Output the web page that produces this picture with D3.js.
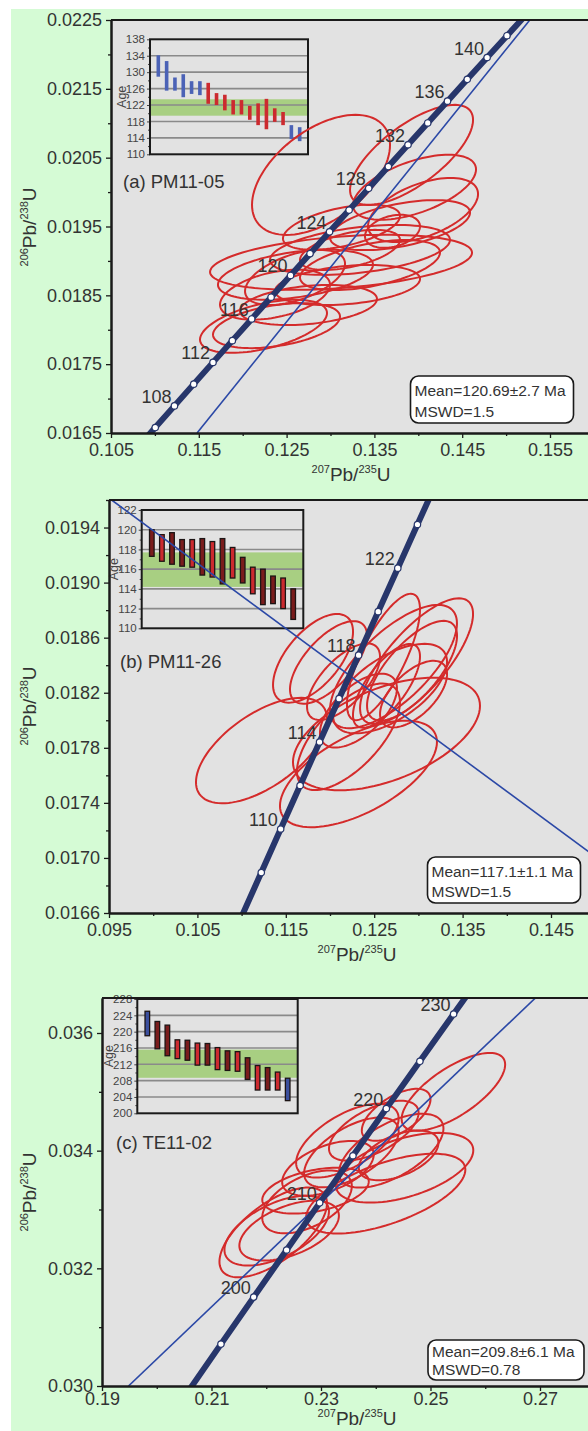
<!DOCTYPE html>
<html>
<head>
<meta charset="utf-8">
<script src="https://cdn.jsdelivr.net/npm/d3@7"></script>
<style>
  body { margin: 0; background: #ffffff; }
  svg { display: block; font-family: "Liberation Sans", Arial, sans-serif; }
</style>
</head>
<body>
<svg id="fig" width="588" height="1431"></svg>
<script>
// ---- Concordia (U-Pb), Ma -> ratios ----
const concAgesAB = [104, 106, 108, 110, 112, 114, 116, 118, 120, 122, 124, 126, 128, 130, 132, 134, 136, 138, 140, 142, 144];
const conc207AB = [0.107853, 0.110038, 0.112226, 0.114419, 0.116617, 0.118818, 0.121024, 0.123234, 0.125449, 0.127668, 0.129891, 0.132119, 0.134351, 0.136587, 0.138828, 0.141073, 0.143323, 0.145577, 0.147837, 0.150100, 0.152367];
const conc206AB = [0.016264, 0.016579, 0.016894, 0.017210, 0.017526, 0.017842, 0.018157, 0.018473, 0.018789, 0.019105, 0.019422, 0.019738, 0.020054, 0.020371, 0.020688, 0.021004, 0.021321, 0.021638, 0.021955, 0.022272, 0.022589];
const concAgesC = [190, 195, 200, 205, 210, 215, 220, 225, 230, 235];
const conc207C = [0.205774, 0.211726, 0.217708, 0.223719, 0.229760, 0.235830, 0.241931, 0.248061, 0.254222, 0.260414];
const conc206C = [0.029912, 0.030712, 0.031511, 0.032312, 0.033113, 0.033914, 0.034716, 0.035519, 0.036323, 0.037127];

const markerAgesA = [106, 108, 110, 112, 114, 116, 118, 120, 122, 124, 126, 128, 130, 132, 134, 136, 138, 140, 142];
const labelAgesA = [108, 112, 116, 120, 124, 128, 132, 136, 140];
const markerAgesB = [108, 110, 112, 114, 116, 118, 120, 122, 124];
const labelAgesB = [110, 114, 118, 122];
const markerAgesC = [195, 200, 205, 210, 215, 220, 225, 230];
const labelAgesC = [200, 210, 220, 230];

// ---- Error ellipses: [207Pb/235U, half-width x, 206Pb/238U, half-height y, rho] ----
const ellipsesA = [
  [0.12892, 0.007859, 0.02025, 0.000872, 0.50],
  [0.13923, 0.007005, 0.02054, 0.000727, 0.70],
  [0.13957, 0.007005, 0.02007, 0.000472, 0.55],
  [0.14054, 0.006264, 0.01974, 0.000465, 0.50],
  [0.13706, 0.003132, 0.01943, 0.000240, 0.30],
  [0.13125, 0.006663, 0.01949, 0.000327, 0.50],
  [0.13120, 0.014920, 0.01898, 0.000400, 0.35],
  [0.12601, 0.008827, 0.01880, 0.000363, 0.40],
  [0.12749, 0.007802, 0.01836, 0.000291, 0.30],
  [0.12237, 0.007232, 0.01805, 0.000385, 0.50],
  [0.12385, 0.007232, 0.01806, 0.000327, 0.40],
  [0.13336, 0.010250, 0.01916, 0.000363, 0.40],
  [0.13450, 0.007973, 0.01894, 0.000363, 0.50],
  [0.13194, 0.008257, 0.01865, 0.000291, 0.30],
  [0.12596, 0.005695, 0.01876, 0.000400, 0.50],
  [0.13792, 0.007973, 0.01952, 0.000363, 0.50],
  [0.12368, 0.006264, 0.01851, 0.000363, 0.40],
  [0.13222, 0.005695, 0.01916, 0.000291, 0.50]
];
const ellipsesB = [
  [0.11225, 0.007410, 0.01778, 0.000383, 0.60],
  [0.11808, 0.004525, 0.01845, 0.000322, 0.60],
  [0.11983, 0.004355, 0.01842, 0.000300, 0.65],
  [0.12979, 0.006391, 0.01843, 0.000456, 0.75],
  [0.12718, 0.007183, 0.01839, 0.000448, 0.70],
  [0.12605, 0.004129, 0.01846, 0.000459, 0.75],
  [0.12322, 0.008880, 0.01761, 0.000387, 0.60],
  [0.12639, 0.010577, 0.01790, 0.000409, 0.50],
  [0.12209, 0.005826, 0.01788, 0.000387, 0.65],
  [0.12679, 0.006448, 0.01823, 0.000325, 0.60],
  [0.12928, 0.005090, 0.01836, 0.000362, 0.70],
  [0.12322, 0.004355, 0.01807, 0.000268, 0.60],
  [0.12639, 0.003790, 0.01825, 0.000304, 0.70],
  [0.12153, 0.004129, 0.01828, 0.000278, 0.65],
  [0.12945, 0.003790, 0.01819, 0.000242, 0.60]
];
const ellipsesC = [
  [0.25418, 0.009455, 0.03500, 0.000661, 0.70],
  [0.24373, 0.006273, 0.03461, 0.000441, 0.60],
  [0.23482, 0.009364, 0.03417, 0.000627, 0.60],
  [0.24282, 0.009545, 0.03400, 0.000627, 0.60],
  [0.24527, 0.012545, 0.03371, 0.000593, 0.50],
  [0.24182, 0.014545, 0.03327, 0.000678, 0.60],
  [0.22900, 0.009727, 0.03332, 0.000390, 0.40],
  [0.22745, 0.008182, 0.03313, 0.000534, 0.50],
  [0.22127, 0.009818, 0.03261, 0.000763, 0.65],
  [0.22191, 0.009545, 0.03264, 0.000593, 0.55],
  [0.22418, 0.009091, 0.03264, 0.000508, 0.50],
  [0.23555, 0.008636, 0.03397, 0.000593, 0.60],
  [0.23127, 0.008364, 0.03370, 0.000466, 0.50],
  [0.23964, 0.008182, 0.03434, 0.000508, 0.60],
  [0.24418, 0.007273, 0.03392, 0.000424, 0.50]
];

// ---- Reference lines (two end points each) ----
const refLineA = [[0.1148, 0.0165], [0.1527, 0.0225]];
const refLineB = [[0.0953, 0.0196], [0.1500, 0.01701]];
const refLineC = [[0.19484, 0.0300], [0.2700, 0.03667]];

// ---- Weighted-mean insets: age bars (Ma) ----
const barTopA = [134.1, 132.7, 128.7, 129.5, 127.8, 127.8, 127.4, 124.9, 124.5, 123.2, 123.2, 121.8, 122.4, 123.5, 121.2, 120.3, 117.1, 116.6];
const barBotA = [128.9, 125.5, 125.5, 123.9, 124.7, 124.4, 122.3, 122.0, 120.7, 119.7, 119.7, 118.4, 117.1, 116.1, 117.9, 117.1, 113.7, 113.2];
const barKindA = ["b", "b", "b", "b", "b", "b", "r", "r", "r", "r", "r", "r", "r", "r", "r", "r", "b", "b"];
const bandA = [119.4, 123.4];

const barTopB = [120.0, 119.5, 119.7, 119.0, 119.0, 119.1, 118.8, 119.1, 118.2, 117.2, 116.2, 116.0, 115.3, 115.1, 114.0];
const barBotB = [117.3, 116.8, 116.5, 116.3, 116.2, 115.4, 115.2, 114.5, 115.1, 114.6, 113.5, 112.4, 112.5, 112.0, 110.9];
const barKindB = ["d", "r", "d", "d", "r", "d", "r", "d", "r", "d", "r", "d", "d", "r", "d"];
const bandB = [114.2, 117.7];

const barTopC = [225.0, 222.5, 221.6, 218.0, 217.9, 217.2, 217.1, 216.1, 215.3, 215.1, 213.6, 211.7, 211.2, 210.1, 208.6];
const barBotC = [219.0, 215.8, 214.1, 213.4, 213.0, 211.8, 211.8, 210.7, 210.5, 210.3, 208.3, 205.7, 205.7, 205.7, 203.1];
const barKindC = ["b", "d", "d", "r", "d", "r", "d", "r", "d", "r", "d", "r", "d", "r", "b"];
const bandC = [208.7, 215.6];

// ---- Axis ticks ----
const yTicksA = [0.0165, 0.0175, 0.0185, 0.0195, 0.0205, 0.0215, 0.0225];
const xTicksA = [0.105, 0.115, 0.125, 0.135, 0.145, 0.155];
const yTicksB = [0.0166, 0.0170, 0.0174, 0.0178, 0.0182, 0.0186, 0.0190, 0.0194];
const xTicksB = [0.095, 0.105, 0.115, 0.125, 0.135, 0.145];
const yTicksC = [0.030, 0.032, 0.034, 0.036];
const xTicksC = [0.19, 0.21, 0.23, 0.25, 0.27];
const insetTicksA = [110, 114, 118, 122, 126, 130, 134, 138];
const insetTicksB = [110, 112, 114, 116, 118, 120, 122];
const insetTicksC = [200, 204, 208, 212, 216, 220, 224, 228];

const panelNames = ["(a) PM11-05", "(b) PM11-26", "(c) TE11-02"];
const meanTexts = ["Mean=120.69\u00b12.7 Ma", "Mean=117.1\u00b11.1 Ma", "Mean=209.8\u00b16.1 Ma"];
const mswdTexts = ["MSWD=1.5", "MSWD=1.5", "MSWD=0.78"];

// ---------------------------------------------------------------------
const svg = d3.select("#fig");
const INK = "#333333";
const CONC = "#27366b";
const RED = "#d42b2b";

svg.append("rect").attr("x", 0).attr("y", 0).attr("width", 588).attr("height", 1431).attr("fill", "#ffffff");
svg.append("rect").attr("x", 11).attr("y", 9).attr("width", 577).attr("height", 1422).attr("fill", "#d5fbd5");

const panels = [
  {
    key: "A", left: 111, right: 590, top: 20, bottom: 433,
    xDom: [0.105, 0.105 + 479 / 8780], yDom: [0.0165, 0.0225],
    xTicks: xTicksA, yTicks: yTicksA, xStep: 0.005, yStep: 0.0005, xFmt: ".3f", yFmt: ".4f", xPad: 5,
    ages: concAgesAB, c207: conc207AB, c206: conc206AB, markers: markerAgesA, labels: labelAgesA,
    ellipses: ellipsesA, refLine: refLineA,
    inset: { l: 150, r: 308, t: 39.3, b: 154.3, dom: [110, 138], ticks: insetTicksA, minor: 2,
             top: barTopA, bot: barBotA, kind: barKindA, band: bandA, bw: 3.6, outlined: false },
    name: { x: 123, y: 188 },
    box: { x: 410.5, y: 376, w: 163, h: 47 },
    xLabel: { x: 351, y: 481 }, yLabel: { x: 36, y: 227 }
  },
  {
    key: "B", left: 109, right: 590, top: 500, bottom: 913,
    xDom: [0.095, 0.095 + 481 / 8840], yDom: [0.0166, 0.0196],
    xTicks: xTicksB, yTicks: yTicksB, xStep: 0.005, yStep: 0.0002, xFmt: ".3f", yFmt: ".4f", xPad: 5,
    ages: concAgesAB, c207: conc207AB, c206: conc206AB, markers: markerAgesB, labels: labelAgesB,
    ellipses: ellipsesB, refLine: refLineB,
    inset: { l: 141.7, r: 303.3, t: 510, b: 628.3, dom: [110, 122], ticks: insetTicksB, minor: 1,
             top: barTopB, bot: barBotB, kind: barKindB, band: bandB, bw: 4.6, outlined: true },
    name: { x: 120, y: 668 },
    box: { x: 427.5, y: 857, w: 153, h: 46 },
    xLabel: { x: 357, y: 961 }, yLabel: { x: 36, y: 706 }
  },
  {
    key: "C", left: 102, right: 590, top: 998, bottom: 1386,
    xDom: [0.19, 0.19 + 488 / 5475], yDom: [0.030, 0.030 + 388 / 58833],
    xTicks: xTicksC, yTicks: yTicksC, xStep: 0.01, yStep: 0.001, xFmt: ".2f", yFmt: ".3f", xPad: 1,
    ages: concAgesC, c207: conc207C, c206: conc206C, markers: markerAgesC, labels: labelAgesC,
    ellipses: ellipsesC, refLine: refLineC,
    inset: { l: 137.3, r: 297.7, t: 999, b: 1113.3, dom: [200, 228], ticks: insetTicksC, minor: 2,
             top: barTopC, bot: barBotC, kind: barKindC, band: bandC, bw: 4.6, outlined: true },
    name: { x: 116, y: 1149 },
    box: { x: 428, y: 1340, w: 156, h: 40 },
    xLabel: { x: 357, y: 1425 }, yLabel: { x: 36, y: 1192 }
  }
];

function minorValues(dom, step, majors) {
  const out = [];
  const start = Math.ceil(dom[0] / step - 1e-6);
  for (let k = start; k * step <= dom[1] + 1e-9; k++) {
    const v = +(k * step).toFixed(6);
    if (!majors.some(m => Math.abs(m - v) < step / 10)) out.push(v);
  }
  return out;
}

function ratioLabel(g, x, y, top, bottom, rotate) {
  const t = g.append("text")
    .attr("transform", `translate(${x},${y})` + (rotate ? " rotate(-90)" : ""))
    .attr("text-anchor", "middle").attr("fill", INK).attr("font-size", 19);
  t.append("tspan").attr("font-size", 11).attr("dy", -8).text(top);
  t.append("tspan").attr("dy", 8).text("Pb/");
  t.append("tspan").attr("font-size", 11).attr("dy", -8).text(bottom);
  t.append("tspan").attr("dy", 8).text("U");
}

panels.forEach((p, pi) => {
  const g = svg.append("g");
  const x = d3.scaleLinear().domain(p.xDom).range([p.left, p.right]);
  const y = d3.scaleLinear().domain(p.yDom).range([p.bottom, p.top]);

  const clipId = "clip" + p.key;
  g.append("clipPath").attr("id", clipId).append("rect")
    .attr("x", p.left).attr("y", p.top).attr("width", p.right - p.left).attr("height", p.bottom - p.top);

  g.append("rect").attr("x", p.left).attr("y", p.top)
    .attr("width", p.right - p.left).attr("height", p.bottom - p.top).attr("fill", "#e2e2e2");

  // inset: weighted mean age bars
  const ins = p.inset;
  const ig = g.append("g");
  const iy = d3.scaleLinear().domain(ins.dom).range([ins.b, ins.t]);
  const ix = d3.scaleLinear().domain([0, ins.top.length + 1]).range([ins.l, ins.r]);
  ig.append("rect").attr("x", ins.l).attr("y", iy(ins.band[1]))
    .attr("width", ins.r - ins.l).attr("height", iy(ins.band[0]) - iy(ins.band[1]))
    .attr("fill", "#a8cf82");
  ig.append("g").selectAll("line").data(ins.ticks.slice(1, -1)).join("line")
    .attr("x1", ins.l).attr("x2", ins.r).attr("y1", d => iy(d)).attr("y2", d => iy(d))
    .attr("stroke", "#8a8a8a").attr("stroke-width", 1.6);
  const iAxis = ig.append("g").attr("transform", `translate(${ins.l},0)`)
    .call(d3.axisLeft(iy).tickValues(ins.ticks).tickSize(3).tickPadding(2));
  iAxis.select(".domain").remove();
  iAxis.selectAll("text").attr("font-size", 11.5).attr("fill", "#444").attr("font-family", "Liberation Sans, Arial, sans-serif");
  iAxis.selectAll("line").attr("stroke", "#444");
  const iMinor = ig.append("g").attr("transform", `translate(${ins.l},0)`)
    .call(d3.axisLeft(iy).tickValues(minorValues(ins.dom, ins.minor, ins.ticks)).tickSize(2).tickFormat(""));
  iMinor.select(".domain").remove();
  iMinor.selectAll("line").attr("stroke", "#444");
  ig.append("text").attr("transform", `translate(${ins.l - 24},${(ins.t + ins.b) / 2}) rotate(-90)`)
    .attr("text-anchor", "middle").attr("font-size", 12.5).attr("fill", "#444").text("Age");

  const barColor = k => k === "b" ? (ins.outlined ? "#3b4f9e" : "#4b62b6") : (k === "d" ? "#7a1c1c" : "#cc2a2f");
  ig.append("g").selectAll("rect").data(ins.top).join("rect")
    .attr("x", (d, i) => ix(i + 1) - ins.bw / 2)
    .attr("y", d => iy(d))
    .attr("width", ins.bw)
    .attr("height", (d, i) => iy(ins.bot[i]) - iy(d))
    .attr("fill", (d, i) => barColor(ins.kind[i]))
    .attr("stroke", ins.outlined ? "#1c1414" : "none")
    .attr("stroke-width", ins.outlined ? 1.3 : 0);
  ig.append("rect").attr("x", ins.l).attr("y", ins.t).attr("width", ins.r - ins.l).attr("height", ins.b - ins.t)
    .attr("fill", "none").attr("stroke", "#1a1a1a").attr("stroke-width", 2);

  // sample name
  g.append("text").attr("x", p.name.x).attr("y", p.name.y).attr("font-size", 18.5).attr("fill", INK).text(panelNames[pi]);

  // clipped data layer
  const dg = g.append("g").attr("clip-path", `url(#${clipId})`);

  const ellipsePts = e => d3.range(0, 96).map(k => {
    const t = k / 96 * 2 * Math.PI;
    const [cx, sx, cy, sy, rho] = e;
    return [x(cx + sx * Math.cos(t)), y(cy + sy * (rho * Math.cos(t) + Math.sqrt(1 - rho * rho) * Math.sin(t)))];
  });
  dg.append("g").selectAll("path").data(p.ellipses).join("path")
    .attr("d", e => d3.line().curve(d3.curveLinearClosed)(ellipsePts(e)))
    .attr("fill", "none").attr("stroke", RED).attr("stroke-width", 2);

  dg.append("line")
    .attr("x1", x(p.refLine[0][0])).attr("y1", y(p.refLine[0][1]))
    .attr("x2", x(p.refLine[1][0])).attr("y2", y(p.refLine[1][1]))
    .attr("stroke", "#2b48a6").attr("stroke-width", 1.6);

  const concPts = p.ages.map((a, i) => [x(p.c207[i]), y(p.c206[i])]);
  dg.append("path").attr("d", d3.line()(concPts))
    .attr("fill", "none").attr("stroke", CONC).attr("stroke-width", 6).attr("stroke-linecap", "round");
  dg.append("g").selectAll("circle").data(p.markers).join("circle")
    .attr("cx", a => x(p.c207[p.ages.indexOf(a)]))
    .attr("cy", a => y(p.c206[p.ages.indexOf(a)]))
    .attr("r", 3.2).attr("fill", "#ffffff").attr("stroke", CONC).attr("stroke-width", 1.2);
  dg.append("g").selectAll("text").data(p.labels).join("text")
    .attr("x", a => x(p.c207[p.ages.indexOf(a)]) - 3)
    .attr("y", a => y(p.c206[p.ages.indexOf(a)]) - 3)
    .attr("text-anchor", "end").attr("font-size", 18).attr("fill", INK).text(a => a);

  // mean / MSWD box
  g.append("rect").attr("x", p.box.x).attr("y", p.box.y).attr("width", p.box.w).attr("height", p.box.h)
    .attr("rx", 8).attr("fill", "#ffffff").attr("stroke", "#1a1a1a").attr("stroke-width", 1.6);
  g.append("text").attr("x", p.box.x + 4).attr("y", p.box.y + p.box.h * 0.43).attr("font-size", 15.5).attr("fill", INK).text(meanTexts[pi]);
  g.append("text").attr("x", p.box.x + 4).attr("y", p.box.y + p.box.h * 0.88).attr("font-size", 15.5).attr("fill", INK).text(mswdTexts[pi]);

  // axes
  const yAx = g.append("g").attr("transform", `translate(${p.left},0)`)
    .call(d3.axisLeft(y).tickValues(p.yTicks).tickFormat(d3.format(p.yFmt)).tickSize(5).tickPadding(4).tickSizeOuter(0));
  const yMin = g.append("g").attr("transform", `translate(${p.left},0)`)
    .call(d3.axisLeft(y).tickValues(minorValues(p.yDom, p.yStep, p.yTicks)).tickFormat("").tickSize(3).tickSizeOuter(0));
  const xAx = g.append("g").attr("transform", `translate(0,${p.bottom})`)
    .call(d3.axisBottom(x).tickValues(p.xTicks).tickFormat(d3.format(p.xFmt)).tickSize(5).tickPadding(p.xPad).tickSizeOuter(0));
  const xMin = g.append("g").attr("transform", `translate(0,${p.bottom})`)
    .call(d3.axisBottom(x).tickValues(minorValues(p.xDom, p.xStep, p.xTicks)).tickFormat("").tickSize(3).tickSizeOuter(0));
  [yAx, yMin, xAx, xMin].forEach(a => {
    a.select(".domain").attr("stroke", "#1a1a1a").attr("stroke-width", 2);
    a.selectAll(".tick line").attr("stroke", "#1a1a1a").attr("stroke-width", 1.3);
    a.selectAll("text").attr("font-size", 18).attr("fill", INK).attr("font-family", "Liberation Sans, Arial, sans-serif");
  });
  g.append("line").attr("x1", p.left).attr("x2", p.right).attr("y1", p.top).attr("y2", p.top)
    .attr("stroke", "#1a1a1a").attr("stroke-width", 2);

  ratioLabel(g, p.xLabel.x, p.xLabel.y, "207", "235", false);
  ratioLabel(g, p.yLabel.x, p.yLabel.y, "206", "238", true);
});
</script>
</body>
</html>
